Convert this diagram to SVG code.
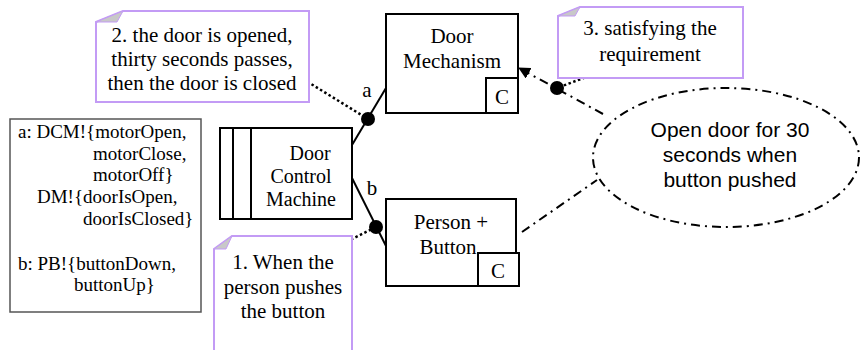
<svg xmlns="http://www.w3.org/2000/svg" width="860" height="350" viewBox="0 0 860 350">
<defs>
<style>
.t{font-family:"Liberation Serif","Times New Roman",serif;font-size:21px;fill:#000;text-anchor:middle}
.m{font-size:20px}
.s{font-family:"Liberation Serif","Times New Roman",serif;font-size:19px;fill:#000}
.a{font-family:"Liberation Sans",Arial,sans-serif;font-size:21px;fill:#000;text-anchor:middle}
.box{fill:#fff;stroke:#000;stroke-width:2}
.note{fill:#fff;stroke:#c39bf5;stroke-width:2}
.fold{fill:#c8c8c8;stroke:#c39bf5;stroke-width:1}
.ln{fill:none;stroke:#000;stroke-width:2}
.dot{fill:none;stroke:#000;stroke-width:2.5;stroke-dasharray:2.5 2.5}
.dd{fill:none;stroke:#000;stroke-width:2;stroke-dasharray:9 5 2 5}
</style>
<marker id="arr" viewBox="0 0 12 12" refX="11" refY="6" markerWidth="12" markerHeight="12" markerUnits="userSpaceOnUse" orient="auto">
<path d="M0,0 L12,6 L0,12 Z" fill="#000"/>
</marker>
</defs>

<g id="legend">
<rect x="10" y="119" width="191" height="193" fill="#fff" stroke="#555" stroke-width="1.5"/>
<text class="s" x="18" y="138">a: DCM!{motorOpen,</text>
<text class="s" x="93" y="160">motorClose,</text>
<text class="s" x="93" y="181">motorOff}</text>
<text class="s" x="37" y="203">DM!{doorIsOpen,</text>
<text class="s" x="83" y="225">doorIsClosed}</text>
<text class="s" x="18" y="270">b: PB!{buttonDown,</text>
<text class="s" x="74" y="291">buttonUp}</text>
</g>

<g id="connectors">
<line class="ln" x1="352" y1="145" x2="386" y2="88"/>
<line class="ln" x1="352" y1="178" x2="386" y2="246"/>
<line class="dot" x1="303" y1="79" x2="368" y2="119"/>
<line class="dot" x1="342" y1="244" x2="376" y2="227"/>
<line class="dot" x1="613" y1="67" x2="557" y2="88"/>
<line class="dd" x1="603" y1="114" x2="519" y2="68" marker-end="url(#arr)"/>
<line class="dd" x1="522" y1="232" x2="597" y2="180"/>
<circle cx="368" cy="119" r="7" fill="#000"/>
<circle cx="376" cy="227" r="7" fill="#000"/>
<circle cx="557" cy="88" r="7" fill="#000"/>
<text class="t" x="367" y="97">a</text>
<text class="t" x="372" y="195">b</text>
</g>

<g id="note2">
<path class="note" d="M123,11 L309,11 L309,102 L96,102 L96,22 Z"/>
<path class="fold" d="M96,22 L123,11 L117,22 Z"/>
<text class="t" x="202" y="42">2. the door is opened,</text>
<text class="t" x="202" y="66">thirty seconds passes,</text>
<text class="t" x="202" y="90">then the door is closed</text>
</g>

<g id="note3">
<path class="note" d="M580,7 L743,7 L743,78 L558,78 L558,16 Z"/>
<path class="fold" d="M558,16 L580,7 L575,16 Z"/>
<text class="t" x="650" y="35">3. satisfying the</text>
<text class="t" x="650" y="61">requirement</text>
</g>

<g id="note1">
<path class="note" d="M232,236 L352,236 L352,352 L214,352 L214,249 Z"/>
<path class="fold" d="M214,249 L232,236 L226,249 Z"/>
<text class="t" x="283" y="269">1. When the</text>
<text class="t" x="283" y="294">person pushes</text>
<text class="t" x="283" y="318">the button</text>
</g>

<g id="door-mechanism">
<rect class="box" x="386" y="14" width="132" height="99"/>
<rect class="box" x="486" y="78" width="32" height="35"/>
<text class="t" x="452" y="43">Door</text>
<text class="t" x="452" y="68">Mechanism</text>
<text class="t" x="502" y="104">C</text>
</g>

<g id="door-control-machine">
<rect class="box" x="220" y="128" width="132" height="91"/>
<line class="ln" x1="233" y1="128" x2="233" y2="219"/>
<line class="ln" x1="251" y1="128" x2="251" y2="219"/>
<text class="t m" x="310" y="160">Door</text>
<text class="t m" x="301" y="183">Control</text>
<text class="t m" x="301" y="206">Machine</text>
</g>

<g id="person-button">
<rect class="box" x="386" y="199" width="130" height="87"/>
<text class="t" x="451" y="229">Person +</text>
<text class="t" x="448" y="254">Button</text>
<rect class="box" x="478" y="253" width="41" height="33"/>
<text class="t" x="498" y="278">C</text>
</g>

<g id="requirement">
<ellipse class="dd" cx="726" cy="157.5" rx="133" ry="69.5"/>
<text class="a" x="730" y="137">Open door for 30</text>
<text class="a" x="730" y="162">seconds when</text>
<text class="a" x="730" y="187">button pushed</text>
</g>
</svg>
